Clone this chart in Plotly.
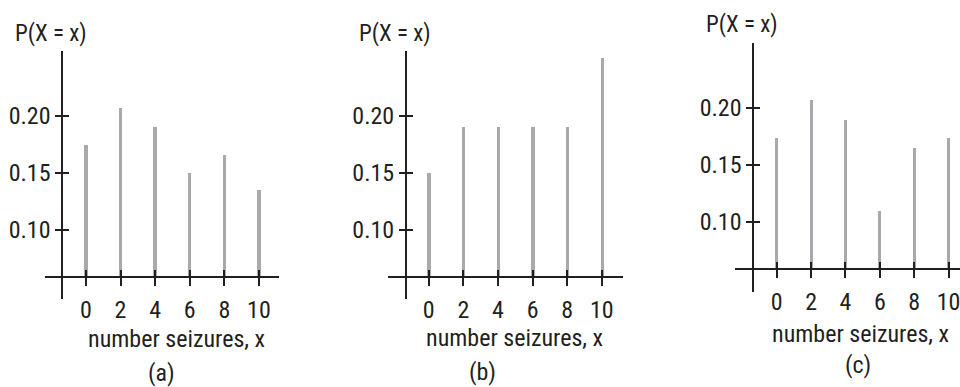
import plotly.graph_objects as go

# ---------------- data ----------------
x_vals = [0, 2, 4, 6, 8, 10]
p_a = [0.175, 0.207, 0.190, 0.150, 0.166, 0.135]
p_b = [0.150, 0.190, 0.190, 0.190, 0.190, 0.251]
p_c = [0.174, 0.207, 0.190, 0.110, 0.165, 0.174]
series = [p_a, p_b, p_c]
y_ticks = [0.10, 0.15, 0.20]
y_tick_text = ["0.10", "0.15", "0.20"]
x_tick_text = ["0", "2", "4", "6", "8", "10"]
panel_labels = ["(a)", "(b)", "(c)"]
y_title = "P(X = x)"
x_title = "number seizures, x"
baseline = 0.059  # value where the horizontal axis crosses

# ---------------- layout helpers ----------------
W, H = 960, 387
def fx(px):
    return px / W
def fy(py):
    return 1 - py / H

INK = "#231f20"
BAR = "#a7a9ac"
FONT = "Liberation Sans Narrow, Roboto Condensed, Roboto, sans-serif"

panels = [
    dict(xdom=(45, 279), xr=(-2.364, 11.162), ydom=(299, 51), yr=(0.03947, 0.25702),
         xpos=276.7, ypos=62.3, ttl=(51, 33), xt=(176.7, 339), lab=(161.7, 373)),
    dict(xdom=(387.7, 622.7), xr=(-2.371, 11.205), ydom=(299, 51), yr=(0.03947, 0.25702),
         xpos=276.7, ypos=406, ttl=(395, 33), xt=(514, 337.5), lab=(482.5, 371.7)),
    dict(xdom=(735, 960), xr=(-2.434, 10.670), ydom=(291.7, 42.7), yr=(0.03886, 0.25728),
         xpos=269.3, ypos=753.3, ttl=(742, 25), xt=(860.8, 334), lab=(858, 365)),
]

fig = go.Figure()
annotations = []
for i, (pan, vals) in enumerate(zip(panels, series)):
    k = i + 1
    ko = i + 4
    xn = "x" if k == 1 else f"x{k}"
    yn = "y" if k == 1 else f"y{k}"
    fig.add_trace(go.Bar(
        x=x_vals, y=[v - baseline for v in vals], base=baseline,
        xaxis=xn, yaxis=yn, width=0.19,
        marker=dict(color=BAR, line=dict(width=0)),
        hoverinfo="skip", showlegend=False,
    ))
    # invisible trace for overlay axes (inside ticks)
    fig.add_trace(go.Scatter(
        x=x_vals, y=vals, xaxis=f"x{ko}", yaxis=f"y{ko}", mode="markers",
        marker=dict(opacity=0), hoverinfo="skip", showlegend=False,
    ))
    common = dict(showgrid=False, zeroline=False, showline=True, linecolor=INK,
                  linewidth=2, tickcolor=INK, tickwidth=2, fixedrange=True)
    xa = dict(common, domain=[fx(pan["xdom"][0]), fx(pan["xdom"][1])], range=list(pan["xr"]),
              anchor="free", position=fy(pan["xpos"]), tickmode="array",
              tickvals=x_vals, ticktext=x_tick_text, ticks="outside", ticklen=8,
              ticklabelstandoff=3,
              tickfont=dict(family=FONT, size=24, color=INK), ticklabeloverflow="allow")
    ya = dict(common, domain=[fy(pan["ydom"][0]), fy(pan["ydom"][1])], range=list(pan["yr"]),
              anchor="free", position=fx(pan["ypos"]), tickmode="array",
              tickvals=y_ticks, ticktext=y_tick_text, ticks="outside", ticklen=6,
              tickfont=dict(family=FONT, size=24, color=INK))
    xo = dict(common, overlaying=xn, range=list(pan["xr"]), anchor="free",
              position=fy(pan["xpos"]), tickmode="array", tickvals=x_vals,
              ticks="inside", ticklen=6, showticklabels=False)
    yo = dict(common, overlaying=yn, range=list(pan["yr"]), anchor="free",
              position=fx(pan["ypos"]), tickmode="array", tickvals=y_ticks,
              ticks="inside", ticklen=6, showticklabels=False)
    fig.update_layout(**{
        ("xaxis" if k == 1 else f"xaxis{k}"): xa,
        ("yaxis" if k == 1 else f"yaxis{k}"): ya,
        f"xaxis{ko}": xo,
        f"yaxis{ko}": yo,
    })
    for text, (cx, cy), size in [(y_title, pan["ttl"], 23), (x_title, pan["xt"], 24),
                                 (panel_labels[i], pan["lab"], 24)]:
        annotations.append(dict(text=text, x=fx(cx), y=fy(cy), xref="paper", yref="paper",
                                xanchor="center", yanchor="middle", showarrow=False,
                                font=dict(family=FONT, size=size, color=INK)))

fig.update_layout(
    width=W, height=H, margin=dict(l=0, r=0, t=0, b=0),
    paper_bgcolor="white", plot_bgcolor="rgba(0,0,0,0)",
    annotations=annotations, showlegend=False, bargap=0,
)
fig.write_html("out.html", config={"displayModeBar": False})
